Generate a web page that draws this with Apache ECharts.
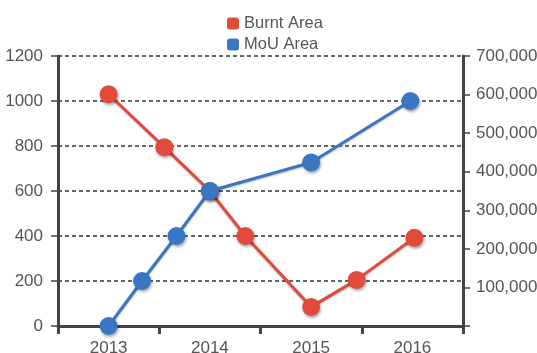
<!DOCTYPE html>
<html>
<head>
<meta charset="utf-8">
<style>
  html, body { margin: 0; padding: 0; background: #ffffff; }
  #chart { width: 537px; height: 353px; }
</style>
<script src="https://cdn.jsdelivr.net/npm/echarts@6/dist/echarts.min.js"></script>
</head>
<body>
<div id="chart"></div>
<script>
// Year categories shown on the x axis
const years = ['2013', '2014', '2015', '2016'];

// Burnt Area (left axis), positions in fractional years
const burntX = [2013, 2013.55, 2014, 2014.35, 2015, 2015.45, 2016.02];
const burntValues = [1030, 795, 600, 400, 85, 205, 392];

// MoU Area (right axis), positions in fractional years
const mouX = [2013, 2013.33, 2013.67, 2014, 2015, 2015.98];
const mouValues = [0, 116667, 233333, 350000, 424000, 583333];

// Axis tick settings
const leftTicks = { min: 0, max: 1200, interval: 200 };
const rightTicks = { min: 0, max: 700000, interval: 100000 };

const FONT = '"Liberation Sans", Arial, Helvetica, sans-serif';
const AXIS_COLOR = '#444444';
const TEXT_COLOR = '#555555';
const RED = '#e04b3b';
const BLUE = '#3b76c2';

const pair = (xs, ys) => xs.map((x, i) => [x, ys[i]]);
const fmtThousands = v => String(v).replace(/\B(?=(\d{3})+(?!\d))/g, ',');

const pointShadow = {
  shadowBlur: 3,
  shadowOffsetX: 1,
  shadowOffsetY: 2,
  shadowColor: 'rgba(0,0,0,0.35)'
};
const lineShadow = { shadowBlur: 2, shadowOffsetY: 1, shadowColor: 'rgba(0,0,0,0.25)' };

const chart = echarts.init(document.getElementById('chart'), null, { renderer: 'canvas' });

chart.setOption({
  animation: false,
  backgroundColor: '#ffffff',
  textStyle: { fontFamily: FONT },
  legend: {
    orient: 'vertical',
    left: 222,
    top: 10,
    icon: 'roundRect',
    itemWidth: 12,
    itemHeight: 12,
    itemGap: 4,
    textStyle: { fontSize: 16.5, color: TEXT_COLOR, fontFamily: FONT },
    data: ['Burnt Area', 'MoU Area']
  },
  grid: { left: 58, right: 74, top: 56, bottom: 27, containLabel: false, outerBoundsMode: 'none' },
  xAxis: [
    {
      type: 'category',
      data: years,
      boundaryGap: true,
      axisLine: { show: true, lineStyle: { color: AXIS_COLOR, width: 3 } },
      axisTick: { show: true, length: 8, alignWithLabel: false, lineStyle: { color: AXIS_COLOR, width: 3 } },
      axisLabel: { fontSize: 17, color: TEXT_COLOR, margin: 14, fontFamily: FONT },
      splitLine: { show: false }
    },
    {
      type: 'value',
      min: 2012.5,
      max: 2016.5,
      show: false,
      splitLine: { show: false }
    }
  ],
  yAxis: [
    {
      type: 'value',
      position: 'left',
      min: leftTicks.min,
      max: leftTicks.max,
      interval: leftTicks.interval,
      axisLine: { show: true, lineStyle: { color: AXIS_COLOR, width: 3 } },
      axisTick: { show: true, length: 7, lineStyle: { color: AXIS_COLOR, width: 1.5 } },
      axisLabel: { fontSize: 17, color: TEXT_COLOR, margin: 15, fontFamily: FONT, formatter: v => String(v) },
      splitLine: { show: true, lineStyle: { color: '#333333', width: 1.5, type: [4, 3] } }
    },
    {
      type: 'value',
      position: 'right',
      min: rightTicks.min,
      max: rightTicks.max,
      interval: rightTicks.interval,
      axisLine: { show: true, lineStyle: { color: AXIS_COLOR, width: 3 } },
      axisTick: { show: true, length: 7, lineStyle: { color: AXIS_COLOR, width: 1.5 } },
      axisLabel: {
        fontSize: 17, color: TEXT_COLOR, margin: 13, fontFamily: FONT, hideOverlap: false,
        formatter: v => (v === 0 ? '' : fmtThousands(v))
      },
      splitLine: { show: false }
    }
  ],
  series: [
    {
      name: 'Burnt Area',
      type: 'line',
      xAxisIndex: 1,
      yAxisIndex: 0,
      data: pair(burntX, burntValues),
      symbol: 'circle',
      symbolSize: 18,
      clip: false,
      lineStyle: Object.assign({ color: RED, width: 3 }, lineShadow),
      itemStyle: Object.assign({ color: RED }, pointShadow),
      z: 2
    },
    {
      name: 'MoU Area',
      type: 'line',
      xAxisIndex: 1,
      yAxisIndex: 1,
      data: pair(mouX, mouValues),
      symbol: 'circle',
      symbolSize: 18,
      clip: false,
      lineStyle: Object.assign({ color: BLUE, width: 3 }, lineShadow),
      itemStyle: Object.assign({ color: BLUE }, pointShadow),
      z: 3
    }
  ]
});
</script>
</body>
</html>
